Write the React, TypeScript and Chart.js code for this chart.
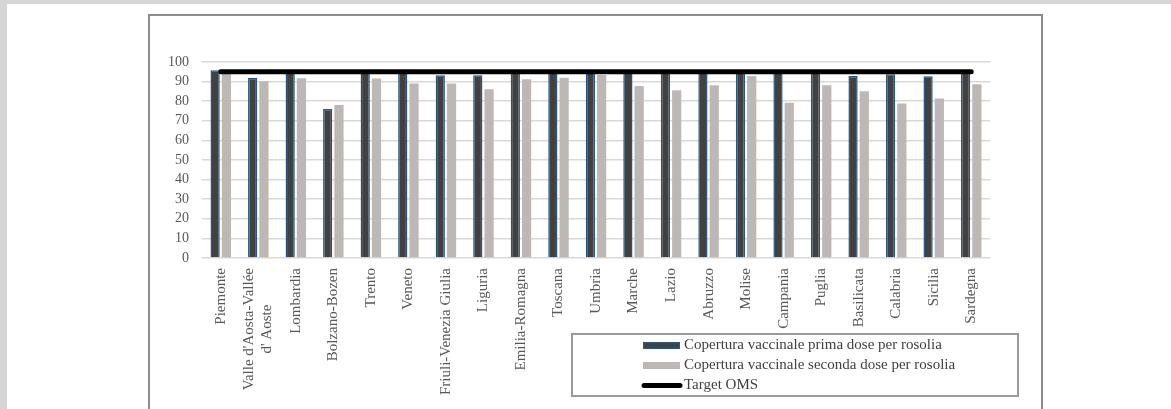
import { useEffect, useRef } from "react";
import { Chart, registerables } from "chart.js";

Chart.register(...registerables);

// Regional coverage (%) for the rubella vaccine, first and second dose
const regions: (string | string[])[] = [
  "Piemonte",
  ["Valle d'Aosta-Vallée", "d' Aoste"],
  "Lombardia",
  "Bolzano-Bozen",
  "Trento",
  "Veneto",
  "Friuli-Venezia Giulia",
  "Liguria",
  "Emilia-Romagna",
  "Toscana",
  "Umbria",
  "Marche",
  "Lazio",
  "Abruzzo",
  "Molise",
  "Campania",
  "Puglia",
  "Basilicata",
  "Calabria",
  "Sicilia",
  "Sardegna",
];

const primaDose = [
  95.8, 92.0, 95.2, 76.0, 95.3, 95.1, 93.2, 93.3, 95.5, 95.3, 95.6, 94.8, 94.9,
  95.0, 95.4, 95.2, 95.1, 92.9, 93.8, 92.7, 94.6,
];

const secondaDose = [
  94.0, 90.2, 91.7, 78.0, 91.6, 89.0, 89.0, 86.1, 91.2, 92.0, 93.4, 87.8, 85.6,
  88.1, 92.9, 79.2, 88.1, 85.1, 78.8, 81.4, 88.6,
];

const targetOms = 95;

const yTicks = [0, 10, 20, 30, 40, 50, 60, 70, 80, 90, 100];

const seriesLabels = [
  "Copertura vaccinale prima dose per rosolia",
  "Copertura vaccinale seconda dose per rosolia",
  "Target OMS",
];

const SERIF = "'Liberation Serif', 'Times New Roman', serif";
const TICK_COLOR = "#595959";
const LEGEND_TEXT = "#3f3f3f";
const DARK_FILL = "#414141";
const DARK_EDGE = "#2a5583";
const GREY_FILL = "#bdb8b5";

// Category names drawn vertically, multi-line names centred line by line
const verticalLabels = {
  id: "verticalCategoryLabels",
  afterDraw(chart: any) {
    const { ctx } = chart;
    const x = chart.scales.x;
    const lh = 18;
    const top = x.top + 10;
    ctx.save();
    ctx.font = `15px ${SERIF}`;
    ctx.fillStyle = TICK_COLOR;
    ctx.textBaseline = "middle";
    ctx.textAlign = "center";
    (chart.data.labels as (string | string[])[]).forEach((lab, i) => {
      const lines = Array.isArray(lab) ? lab : [lab];
      const w = Math.max(...lines.map((l) => ctx.measureText(l).width));
      const px = x.getPixelForTick(i);
      ctx.save();
      ctx.translate(px, top);
      ctx.rotate(-Math.PI / 2);
      lines.forEach((line, j) => {
        ctx.fillText(line, -w / 2, (j - (lines.length - 1) / 2) * lh);
      });
      ctx.restore();
    });
    ctx.restore();
  },
};

// Boxed legend with one entry per row
const boxedLegend = {
  id: "boxedLegend",
  afterDraw(chart: any) {
    const { ctx, chartArea } = chart;
    const left = chartArea.left + 370;
    const top = chartArea.bottom + 76;
    const w = 446;
    const h = 62;
    ctx.save();
    ctx.fillStyle = "#ffffff";
    ctx.fillRect(left, top, w, h);
    ctx.strokeStyle = "#9a9a9a";
    ctx.lineWidth = 2;
    ctx.strokeRect(left, top, w, h);

    const sx = left + 71;
    const sw = 37;
    const tx = left + 112;
    ctx.font = `15px ${SERIF}`;
    ctx.textBaseline = "middle";
    ctx.textAlign = "left";

    chart.data.datasets.forEach((ds: any, i: number) => {
      const cy = top + 11.5 + i * 20;
      if (ds.type === "line") {
        ctx.strokeStyle = ds.borderColor;
        ctx.lineWidth = 5;
        ctx.lineCap = "round";
        ctx.beginPath();
        ctx.moveTo(sx + 1, cy);
        ctx.lineTo(sx + sw, cy);
        ctx.stroke();
      } else {
        ctx.fillStyle = ds.backgroundColor;
        ctx.fillRect(sx, cy - 3.5, sw, 7);
        if (ds.borderWidth) {
          ctx.strokeStyle = ds.borderColor;
          ctx.lineWidth = 1.5;
          ctx.strokeRect(sx + 0.75, cy - 2.75, sw - 1.5, 5.5);
        }
      }
      ctx.fillStyle = LEGEND_TEXT;
      ctx.fillText(ds.label, tx, cy);
    });
    ctx.restore();
  },
};

export default function App() {
  const canvasRef = useRef<HTMLCanvasElement | null>(null);

  useEffect(() => {
    const canvas = canvasRef.current;
    if (!canvas) return;
    const chart = new Chart(canvas, {
      type: "bar",
      data: {
        labels: regions as any,
        datasets: [
          {
            type: "bar",
            label: seriesLabels[0],
            data: primaDose,
            backgroundColor: DARK_FILL,
            borderColor: DARK_EDGE,
            borderWidth: 1.5,
            order: 1,
          },
          {
            type: "bar",
            label: seriesLabels[1],
            data: secondaDose,
            backgroundColor: GREY_FILL,
            borderWidth: 0,
            order: 2,
          },
          {
            type: "line",
            label: seriesLabels[2],
            data: regions.map(() => targetOms),
            borderColor: "#000000",
            borderWidth: 5,
            borderCapStyle: "round",
            pointRadius: 0,
            fill: false,
            order: 0,
          } as any,
        ],
      },
      options: {
        responsive: false,
        animation: false,
        devicePixelRatio: 1,
        layout: { padding: { left: 152, right: 181, top: 62, bottom: 11 } },
        datasets: {
          bar: { categoryPercentage: 0.6, barPercentage: 0.82 },
        },
        plugins: {
          legend: { display: false },
          tooltip: { enabled: false },
          title: { display: false },
        },
        scales: {
          x: {
            type: "category",
            offset: true,
            grid: { display: false },
            border: { display: false },
            ticks: { display: false },
            afterFit: (s: any) => {
              s.height = 140;
            },
          },
          y: {
            min: 0,
            max: 100,
            afterBuildTicks: (s: any) => {
              s.ticks = yTicks.map((v) => ({ value: v }));
            },
            ticks: {
              autoSkip: false,
              padding: 13,
              color: TICK_COLOR,
              font: { family: SERIF, size: 14 },
            },
            grid: { color: "#d9d9d9", lineWidth: 1.5, drawTicks: false },
            border: { display: false },
            afterFit: (s: any) => {
              s.width = 50;
            },
          },
        },
      },
      plugins: [verticalLabels, boxedLegend],
    });
    return () => chart.destroy();
  }, []);

  return (
    <div
      style={{
        position: "fixed",
        inset: 0,
        background: "#d5d5d5",
        overflow: "hidden",
      }}
    >
      <div
        style={{
          position: "absolute",
          left: 7,
          top: 4,
          right: 0,
          bottom: 0,
          background: "#ffffff",
        }}
      />
      <div
        style={{
          position: "absolute",
          left: 148,
          top: 14,
          width: 891,
          height: 440,
          border: "2px solid #8c8c8c",
        }}
      />
      <canvas
        ref={canvasRef}
        width={1171}
        height={409}
        style={{ position: "absolute", left: 0, top: 0 }}
      />
    </div>
  );
}
